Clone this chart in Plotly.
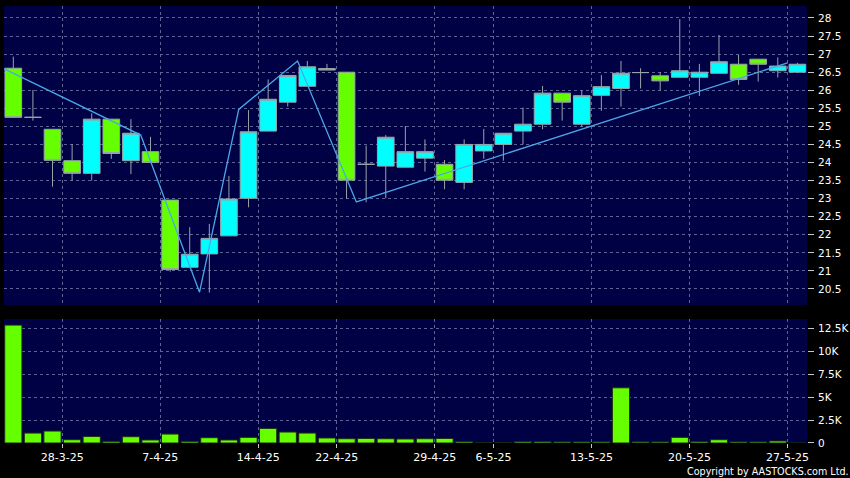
import plotly.graph_objects as go

dates = ["26-3-25", "27-3-25", "28-3-25", "31-3-25", "1-4-25", "2-4-25", "3-4-25",
         "7-4-25", "8-4-25", "9-4-25", "10-4-25", "11-4-25", "14-4-25", "15-4-25",
         "16-4-25", "17-4-25", "22-4-25", "23-4-25", "24-4-25", "25-4-25", "28-4-25",
         "29-4-25", "30-4-25", "2-5-25", "6-5-25", "7-5-25", "8-5-25", "9-5-25",
         "12-5-25", "13-5-25", "14-5-25", "15-5-25", "16-5-25", "19-5-25", "20-5-25",
         "21-5-25", "22-5-25", "23-5-25", "26-5-25", "27-5-25", "28-5-25"]

opens = [26.61, 25.25, 24.92, 24.05, 23.70, 25.20, 24.05, 24.30, 22.96, 21.10,
         21.47, 21.97, 23.01, 24.87, 25.67, 26.11, 26.60, 26.50, 23.95, 23.90,
         23.87, 24.12, 23.95, 23.45, 24.32, 24.50, 24.87, 25.06, 25.92, 25.06,
         25.86, 26.05, 26.49, 26.40, 26.36, 26.36, 26.47, 26.72, 26.86, 26.54, 26.50]
highs = [26.93, 26.01, 24.92, 24.51, 25.36, 25.20, 25.20, 24.71, 22.96, 22.21,
         22.30, 23.63, 25.45, 26.30, 26.41, 26.81, 26.73, 26.50, 24.47, 24.76,
         25.01, 24.64, 24.07, 24.64, 24.93, 24.81, 25.52, 26.12, 25.92, 26.00,
         26.42, 26.81, 26.61, 26.50, 27.97, 26.73, 27.53, 26.98, 26.86, 26.91, 26.76]
lows = [25.25, 25.16, 23.33, 23.50, 23.50, 24.10, 23.68, 24.00, 20.98, 21.10,
        20.40, 21.97, 22.76, 24.87, 25.55, 26.11, 26.56, 23.00, 22.90, 23.01,
        23.87, 23.75, 23.26, 23.26, 24.10, 24.05, 24.50, 24.92, 25.16, 24.99,
        25.43, 25.55, 26.05, 25.99, 26.36, 25.84, 26.47, 26.15, 26.24, 26.35, 26.50]
closes = [25.25, 25.25, 24.06, 23.70, 25.20, 24.25, 24.81, 24.00, 21.04, 21.46,
          21.90, 22.99, 24.85, 25.75, 26.41, 26.65, 26.56, 23.51, 23.95, 24.70,
          24.30, 24.30, 23.51, 24.50, 24.50, 24.81, 25.06, 25.92, 25.67, 25.85,
          26.10, 26.47, 26.49, 26.26, 26.54, 26.50, 26.79, 26.30, 26.72, 26.67, 26.72]

volumes = [12900, 1090, 1310, 360, 720, 180, 690, 330, 980, 180,
           580, 330, 620, 1600, 1200, 1090, 550, 470, 500, 470,
           440, 470, 500, 140, 20, 20, 140, 140, 120, 120,
           120, 6040, 120, 120, 620, 140, 360, 120, 120, 220, 0]

zigzag_idx = [0, 7, 10, 12, 15, 18, 40]
zigzag_val = [26.60, 24.76, 20.41, 25.47, 26.81, 22.91, 26.76]

tick_dates = ["28-3-25", "7-4-25", "14-4-25", "22-4-25", "29-4-25",
              "6-5-25", "13-5-25", "20-5-25", "27-5-25"]

price_ticks = [20.5, 21, 21.5, 22, 22.5, 23, 23.5, 24, 24.5, 25, 25.5, 26,
               26.5, 27, 27.5, 28]
vol_ticks = [0, 2500, 5000, 7500, 10000, 12500]
vol_tick_text = ["0", "2.5K", "5K", "7.5K", "10K", "12.5K"]

x = list(range(len(dates)))
tickvals = [dates.index(d) + 0.5 for d in tick_dates]

CYAN = "#00ffff"
GREEN = "#66ff00"
PANEL = "#000044"
GRID = "#5a6496"
FONT = dict(family="DejaVu Sans", size=11, color="#ffffff")
YFONT = dict(family="DejaVu Sans", size=10.5, color="#ffffff")

fig = go.Figure()

fig.add_trace(go.Candlestick(
    x=x, open=opens, high=highs, low=lows, close=closes,
    increasing=dict(fillcolor=CYAN, line=dict(color="#98a4a8", width=1)),
    decreasing=dict(fillcolor=GREEN, line=dict(color="#98a4a8", width=1)),
    whiskerwidth=0, xaxis="x", yaxis="y", showlegend=False, hoverinfo="skip",
))

fig.add_trace(go.Scatter(
    x=[i - 0.5 for i in zigzag_idx], y=zigzag_val, mode="lines",
    line=dict(color="#4aa8e8", width=1.3), xaxis="x", yaxis="y",
    showlegend=False, hoverinfo="skip",
))

fig.add_trace(go.Bar(
    x=x, y=volumes, marker=dict(color=GREEN, line=dict(color="#1a2a10", width=1)),
    xaxis="x2", yaxis="y2", showlegend=False, hoverinfo="skip",
))

xr = [-0.475, 40.49]
common_x = dict(range=xr, showline=False, zeroline=False, showgrid=True,
                gridcolor=GRID, griddash="3px,3px", gridwidth=1,
                tickmode="array", tickvals=tickvals, fixedrange=True,
                automargin=False)

fig.update_layout(
    width=850, height=478,
    margin=dict(l=4, r=43, t=6, b=35, autoexpand=False),
    paper_bgcolor="#000000",
    plot_bgcolor=PANEL,
    font=FONT,
    boxgap=0.15, boxgroupgap=0,
    bargap=0.12,
    xaxis=dict(**common_x, anchor="y", showticklabels=False, ticks="",
               rangeslider=dict(visible=False)),
    yaxis=dict(domain=[0.3158, 1.0], range=[20.056, 28.332], side="right",
               tickmode="array", tickvals=price_ticks,
               ticktext=[f"{v:g}" for v in price_ticks],
               ticks="outside", ticklen=6, tickcolor="#c8c8c8",
               ticklabelstandoff=2, automargin=False, tickfont=YFONT,
               showgrid=True, gridcolor=GRID, griddash="3px,3px",
               zeroline=False, showline=False, anchor="x", fixedrange=True),
    xaxis2=dict(**common_x, anchor="y2", ticktext=tick_dates, ticks="outside",
                ticklen=4, tickcolor="#c8c8c8", showticklabels=True),
    yaxis2=dict(domain=[0.0, 0.2838], range=[0, 13570], side="right",
                tickmode="array", tickvals=vol_ticks, ticktext=vol_tick_text,
                ticks="outside", ticklen=6, tickcolor="#c8c8c8",
                ticklabelstandoff=2, automargin=False, tickfont=YFONT,
                showgrid=True, gridcolor=GRID, griddash="3px,3px",
                zeroline=False, showline=False, anchor="x2", fixedrange=True),
    annotations=[dict(text="Copyright by AASTOCKS.com Ltd.", xref="paper",
                      yref="paper", x=1.0545, y=-0.0657, xanchor="right",
                      yanchor="middle", showarrow=False,
                      font=dict(family="DejaVu Sans", size=9.6, color="#ffffff"))],
)

fig.write_html("out.html",
               config={"displayModeBar": False},
               post_script="document.body.style.margin='0';"
                           "document.body.style.background='#000';")
